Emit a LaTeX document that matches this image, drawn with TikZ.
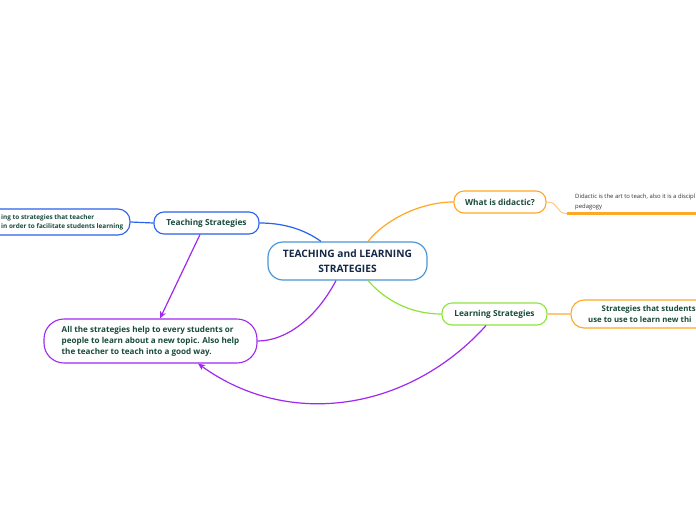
\documentclass[tikz,border=0pt]{standalone}
\usepackage{fontspec}
\setmainfont{Open Sans}
\usetikzlibrary{arrows.meta,calc}
\definecolor{cblue}{RGB}{41,98,235}
\definecolor{cblueC}{RGB}{74,150,214}
\definecolor{corange}{RGB}{255,167,38}
\definecolor{corangeL}{RGB}{255,200,120}
\definecolor{cgreen}{RGB}{142,228,60}
\definecolor{cpurple}{RGB}{160,40,240}
\definecolor{tgreen}{RGB}{25,75,60}
\definecolor{tnavy}{RGB}{20,40,70}
\definecolor{tgray}{RGB}{50,50,50}
\begin{document}
\begin{tikzpicture}[x=1pt,y=-1pt,
  box/.style={draw, rounded corners=10pt, fill=white, line width=1.1pt, inner sep=0pt,
    text=tgreen, font=\bfseries\fontsize{8.3}{11}\selectfont},
  conn/.style={line width=1.2pt},
  lbl/.style={anchor=west, inner sep=0pt, text=tgreen, align=left}
]
\useasboundingbox (0,0) rectangle (696,520);
\fill[white] (0,0) rectangle (696,520);

% nodes
\node[box, draw=cblueC, line width=1.2pt, rounded corners=15pt, minimum width=159pt, minimum height=38pt,
  align=center, text=tnavy, font=\bfseries\fontsize{10.2}{15}\selectfont] (center) at (347.5,261)
  {TEACHING and LEARNING\\STRATEGIES};
\node[box, draw=cblue, minimum width=105pt, minimum height=22pt] (teach) at (206.5,223) {Teaching Strategies};
\node[box, draw=cblue, rounded corners=12pt, minimum width=220pt, minimum height=26pt] (leftbox) at (20,222) {};
\node[lbl, font=\bfseries\fontsize{6.4}{9.5}\selectfont] (lefttext) at (1,222.5)
  {ing to strategies that teacher\\in order to facilitate students learning};
\node[box, draw=corange, minimum width=92pt, minimum height=22pt] (did) at (500,202) {What is didactic?};
\node[lbl, text=tgray, font=\fontsize{5.9}{9.5}\selectfont] (didtext) at (575,202)
  {Didactic is the art to teach, also it is a discipl\\pedagogy};
\coordinate (ul) at (567,213.5);
\node[box, draw=cgreen, minimum width=105pt, minimum height=22pt] (learn) at (494.5,314) {Learning Strategies};
\node[box, draw=corange, rounded corners=13pt, minimum width=170pt, minimum height=28pt] (rbox) at (656,314) {};
\node[lbl, font=\bfseries\fontsize{7.8}{11}\selectfont] (rt1) at (601.5,309) {Strategies that students};
\node[lbl, font=\bfseries\fontsize{7.8}{11}\selectfont] (rt2) at (588,319.5) {use to use to learn new thi};
\node[box, draw=cpurple, rounded corners=20pt, minimum width=213pt, minimum height=44pt, align=left,
  font=\bfseries\fontsize{8.1}{11}\selectfont] (purp) at (150.5,341)
  {All the strategies help to every students or\\people to learn about a new topic. Also help\\the teacher to teach into a good way.};

% connectors
\draw[conn, cblue] (teach.east) .. controls (285,223) and (305,230) .. ($(center.north)+(-26.5,0)$);
\draw[conn, cblue] (teach.west) -- (leftbox.east);
\draw[conn, corange] ($(center.north)+(20.5,0)$) .. controls (385,220) and (420,202) .. (did.west);
\draw[conn, corangeL, line width=1pt] (did.east) .. controls (560,202) and (555,213.5) .. (ul);
\draw[corange, line width=2.2pt] (ul) -- (700,213.5);
\draw[conn, cgreen] ($(center.south)+(20.5,0)$) .. controls (385,300) and (410,314) .. (learn.west);
\draw[conn, corangeL] (learn.east) -- (rbox.west);
\draw[conn, cpurple] ($(center.south)+(-11.5,0)$) .. controls (315,320) and (285,341) .. (purp.east);
\draw[conn, cpurple, -{Stealth[length=7pt,width=6pt,inset=2pt]}] ($(teach.south)+(-6.5,0)$) -- ($(purp.north)+(9.5,0)$);
\draw[conn, cpurple, -{Stealth[length=7pt,width=6pt,inset=2pt]}] ($(learn.south)+(-8.5,0)$)
  .. controls (410,410) and (290,430) .. ($(purp.south)+(47.5,0)$);
\end{tikzpicture}
\end{document}
